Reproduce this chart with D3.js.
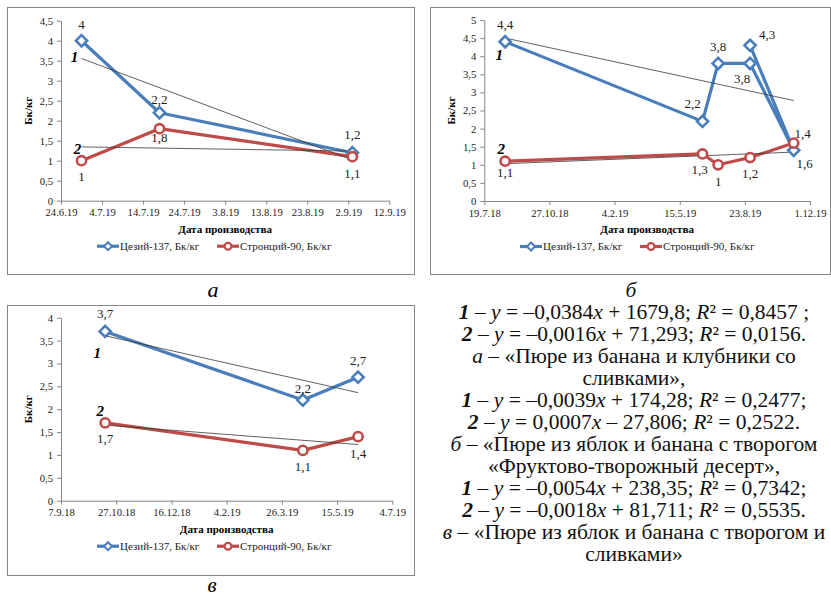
<!DOCTYPE html>
<html>
<head>
<meta charset="utf-8">
<script src="https://cdn.jsdelivr.net/npm/d3@7"></script>
<style>
body { margin: 0; background: #fff; }
svg { display: block; }
svg text { font-family: "Liberation Serif", "Tinos", "Times New Roman", "DejaVu Serif", serif; }
</style>
</head>
<body>
<div id="chart"></div>
<script>
// chart а
const datesA = ["29.6.19", "18.7.19", "3.9.19"];
const cesiumA = [4, 2.2, 1.2];
const strontiumA = [1, 1.8, 1.1];
const ticksA = ["24.6.19", "4.7.19", "14.7.19", "24.7.19", "3.8.19", "13.8.19", "23.8.19", "2.9.19", "12.9.19"];

// chart б (cesium series is not sorted by date, as in the original)
const datesBcs = ["20.8.18", "19.6.19", "13.7.19", "31.8.19", "6.11.19", "31.8.19"];
const cesiumB = [4.4, 2.2, 3.8, 3.8, 1.4, 4.3];
const datesBsr = ["20.8.18", "19.6.19", "13.7.19", "31.8.19", "6.11.19"];
const strontiumB = [1.1, 1.3, 1, 1.2, 1.6];
const ticksB = ["19.7.18", "27.10.18", "4.2.19", "15.5.19", "23.8.19", "1.12.19"];

// chart в
const datesV = ["17.10.18", "14.4.19", "3.6.19"];
const cesiumV = [3.7, 2.2, 2.7];
const strontiumV = [1.7, 1.1, 1.4];
const ticksV = ["7.9.18", "27.10.18", "16.12.18", "4.2.19", "26.3.19", "15.5.19", "4.7.19"];

const seriesNames = ["Цезий-137, Бк/кг", "Стронций-90, Бк/кг"];

// notes on the right, [text, style] pieces
const notes = [
  [["б", "i"]],
  [["1", "bi"], [" – "], ["y", "i"], [" = –0,0384"], ["x", "i"], [" + 1679,8; "], ["R", "i"], ["² = 0,8457 ;"]],
  [["2", "bi"], [" – "], ["y", "i"], [" = –0,0016"], ["x", "i"], [" + 71,293; "], ["R", "i"], ["² = 0,0156."]],
  [["а", "i"], [" – «Пюре из банана и клубники со"]],
  [["сливками»,"]],
  [["1", "bi"], [" – "], ["y", "i"], [" = –0,0039"], ["x", "i"], [" + 174,28; "], ["R", "i"], ["² = 0,2477;"]],
  [["2", "bi"], [" – "], ["y", "i"], [" = 0,0007"], ["x", "i"], [" – 27,806; "], ["R", "i"], ["² = 0,2522."]],
  [["б", "i"], [" – «Пюре из яблок и банана с творогом"]],
  [["«Фруктово-творожный десерт»,"]],
  [["1", "bi"], [" – "], ["y", "i"], [" = –0,0054"], ["x", "i"], [" + 238,35; "], ["R", "i"], ["² = 0,7342;"]],
  [["2", "bi"], [" – "], ["y", "i"], [" = –0,0018"], ["x", "i"], [" + 81,711; "], ["R", "i"], ["² = 0,5535."]],
  [["в", "i"], [" – «Пюре из яблок и банана с творогом и"]],
  [["сливками»"]]
];

const BLUE = "#4a7ebb", RED = "#be4b48", AXIS = "#868686";
const parseDate = d3.timeParse("%d.%m.%y");
const DAY = 86400000;

var svg = d3.select("#chart")
  .append("svg")
  .attr("width", 831)
  .attr("height", 598);

svg.append("rect").attr("width", 831).attr("height", 598).attr("fill", "#fff");

function diamond(r) {
  return "M0," + (-r) + "L" + r + ",0L0," + r + "L" + (-r) + ",0Z";
}

// least squares trend over days, drawn from first to last date
function fit(dates, vals) {
  const xs = dates.map(d => d.getTime() / DAY);
  const mx = d3.mean(xs), my = d3.mean(vals);
  let sxy = 0, sxx = 0;
  xs.forEach((x, i) => { sxy += (x - mx) * (vals[i] - my); sxx += (x - mx) * (x - mx); });
  const k = sxy / sxx;
  const [d0, d1] = d3.extent(dates);
  return [[d0, my + k * (d0.getTime() / DAY - mx)], [d1, my + k * (d1.getTime() / DAY - mx)]];
}

function drawChart(c) {
  const g = svg.append("g");

  g.append("rect")
    .attr("x", c.frame[0] + 0.5).attr("y", c.frame[1] + 0.5)
    .attr("width", c.frame[2] - c.frame[0]).attr("height", c.frame[3] - c.frame[1])
    .attr("fill", "none").attr("stroke", AXIS).attr("stroke-width", 1);

  const ticks = c.ticks.map(parseDate);
  const x = d3.scaleTime().domain(d3.extent(ticks)).range([c.left, c.right]);
  const y = d3.scaleLinear().domain([0, c.yMax]).range([c.bottom, c.top]);

  const xAxis = g.append("g")
    .attr("transform", "translate(0," + c.bottom + ")")
    .call(d3.axisBottom(x).tickValues(ticks).tickFormat((d, i) => c.ticks[i]).tickSize(4).tickSizeOuter(0));
  const yAxis = g.append("g")
    .attr("transform", "translate(" + c.left + ",0)")
    .call(d3.axisLeft(y).tickValues(d3.range(0, c.yMax + 0.01, 0.5))
      .tickFormat(v => String(v).replace(".", ",")).tickSize(4).tickSizeOuter(0).tickPadding(4));
  [xAxis, yAxis].forEach(a => {
    a.attr("font-family", null);
    a.select(".domain").attr("stroke", AXIS);
    a.selectAll(".tick line").attr("stroke", AXIS);
    a.selectAll(".tick text").attr("font-size", 10.7).attr("fill", "#222");
  });
  xAxis.selectAll(".tick text").attr("y", 12).attr("dy", "0.35em");

  g.append("text")
    .attr("x", (c.left + c.right) / 2).attr("y", c.bottom + 28).attr("dy", "0.35em")
    .attr("text-anchor", "middle").attr("font-weight", "bold").attr("font-size", 11)
    .text("Дата производства");

  g.append("text")
    .attr("transform", "translate(" + c.yTitleX + "," + (c.top + c.bottom) / 2 + ") rotate(-90)")
    .attr("dy", "0.35em").attr("text-anchor", "middle").attr("font-weight", "bold").attr("font-size", 11)
    .text("Бк/кг");

  const series = [
    {dates: c.cs[0].map(parseDate), vals: c.cs[1], color: BLUE, shape: "d", lab: c.csLab},
    {dates: c.sr[0].map(parseDate), vals: c.sr[1], color: RED, shape: "o", lab: c.srLab}
  ];

  const line = d3.line().x(d => x(d[0])).y(d => y(d[1]));

  series.forEach(s => {
    const pts = s.dates.map((d, i) => [d, s.vals[i]]);
    g.append("path").datum(pts).attr("d", line)
      .attr("fill", "none").attr("stroke", s.color).attr("stroke-width", 3.2).attr("stroke-linejoin", "round");
  });

  series.forEach((s, si) => {
    const t = fit(s.dates, s.vals);
    g.append("path").datum(t).attr("d", line)
      .attr("fill", "none").attr("stroke", "#3a3a3a").attr("stroke-width", 0.8);
    g.append("text")
      .attr("x", x(t[0][0]) + c.trendLab[si][0]).attr("y", y(t[0][1]) + c.trendLab[si][1])
      .attr("dy", "0.35em").attr("text-anchor", "middle")
      .attr("font-weight", "bold").attr("font-style", "italic").attr("font-size", 15)
      .text(si + 1);
  });

  series.forEach(s => {
    s.dates.forEach((d, i) => {
      const px = x(d), py = y(s.vals[i]);
      if (s.shape === "d") {
        g.append("path").attr("d", diamond(5.6)).attr("transform", "translate(" + px + "," + py + ")")
          .attr("fill", "#fff").attr("stroke", s.color).attr("stroke-width", 2.6);
      } else {
        g.append("circle").attr("cx", px).attr("cy", py).attr("r", 4.6)
          .attr("fill", "#fff").attr("stroke", s.color).attr("stroke-width", 2.6);
      }
      g.append("text")
        .attr("x", px + s.lab[i][0]).attr("y", py + s.lab[i][1]).attr("dy", "0.35em")
        .attr("text-anchor", "middle").attr("font-size", 13).attr("fill", "#222")
        .text(String(s.vals[i]).replace(".", ","));
    });
  });

  // legend
  const ly = c.bottom + 45.5;
  series.forEach((s, i) => {
    const lx = c.legendX + i * 120;
    g.append("line").attr("x1", lx).attr("x2", lx + 22).attr("y1", ly).attr("y2", ly)
      .attr("stroke", s.color).attr("stroke-width", 3.2);
    if (s.shape === "d") {
      g.append("path").attr("d", diamond(4)).attr("transform", "translate(" + (lx + 11) + "," + ly + ")")
        .attr("fill", "#fff").attr("stroke", s.color).attr("stroke-width", 2);
    } else {
      g.append("circle").attr("cx", lx + 11).attr("cy", ly).attr("r", 3.4)
        .attr("fill", "#fff").attr("stroke", s.color).attr("stroke-width", 2.2);
    }
    g.append("text").attr("x", lx + 23).attr("y", ly).attr("dy", "0.35em")
      .attr("font-size", 11).attr("fill", "#222").text(seriesNames[i]);
  });
}

drawChart({
  frame: [7, 7, 414, 274], left: 61, right: 389.3, top: 20.7, bottom: 200.7, yMax: 4.5,
  ticks: ticksA, yTitleX: 28, legendX: 97,
  cs: [datesA, cesiumA], sr: [datesA, strontiumA],
  csLab: [[0, -16], [0, -13], [0, -18]],
  srLab: [[0, 16], [0, 9], [0, 17]],
  trendLab: [[-7, -2], [-4, 1.5]]
});

drawChart({
  frame: [430, 7, 830, 274], left: 484.3, right: 810, top: 20, bottom: 201, yMax: 5,
  ticks: ticksB, yTitleX: 451.5, legendX: 520,
  cs: [datesBcs, cesiumB], sr: [datesBsr, strontiumB],
  csLab: [[0, -17], [-10, -18], [0, -17], [-8, 15], [9, -17], [17, -11]],
  srLab: [[0, 11], [-3, 16], [0, 17], [0, 16], [11, 20]],
  trendLab: [[-6, 17], [-4, -15]]
});

drawChart({
  frame: [7, 305, 414, 575], left: 61, right: 392.3, top: 317.7, bottom: 500.7, yMax: 4,
  ticks: ticksV, yTitleX: 28, legendX: 97,
  cs: [datesV, cesiumV], sr: [datesV, strontiumV],
  csLab: [[0, -18], [0, -12], [0, -17]],
  srLab: [[0, 16], [0, 16], [0, 17]],
  trendLab: [[-8, 17], [-5, -14]]
});

// captions
svg.append("text").attr("x", 213).attr("y", 297).attr("text-anchor", "middle")
  .attr("font-style", "italic").attr("font-size", 22).text("а");
svg.append("text").attr("x", 212).attr("y", 592).attr("text-anchor", "middle")
  .attr("font-style", "italic").attr("font-size", 21).text("в");

// notes block
notes.forEach((ln, i) => {
  const t = svg.append("text")
    .attr("x", i === 0 ? 631 : 634).attr("y", 297 + i * 22)
    .attr("text-anchor", "middle").attr("font-size", 21.5).attr("fill", "#111");
  ln.forEach(p => {
    t.append("tspan")
      .attr("font-style", p[1] && p[1].includes("i") ? "italic" : null)
      .attr("font-weight", p[1] === "bi" ? "bold" : null)
      .text(p[0]);
  });
});
</script>
</body>
</html>
